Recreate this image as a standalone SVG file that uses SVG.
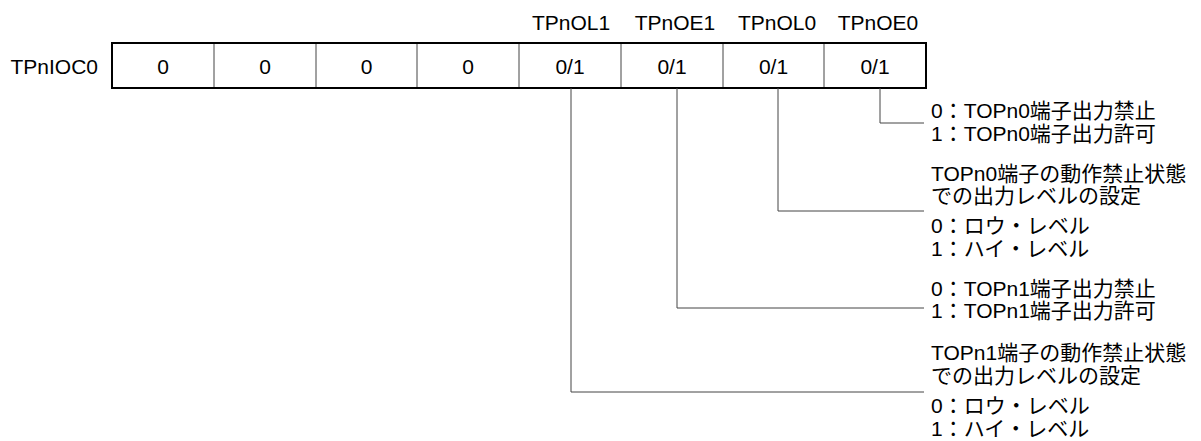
<svg xmlns="http://www.w3.org/2000/svg" width="1201" height="441" viewBox="0 0 1201 441">
<style>
text{font-family:"Liberation Sans","Noto Sans CJK JP",Arial,sans-serif;font-size:21px;fill:#000}
.c{text-anchor:middle}
.cell{fill:#fff;stroke:none}
.div{stroke:#444;stroke-width:1}
.frame{fill:none;stroke:#000;stroke-width:2}
.conn{fill:none;stroke:#444;stroke-width:1}
</style>
<rect width="1201" height="441" fill="#fff"/>
<g id="register">
<text x="98" y="74" text-anchor="end">TPnIOC0</text>
<rect class="cell" x="112" y="43" width="814" height="45"/>
<line class="div" x1="214" y1="43" x2="214" y2="88"/>
<line class="div" x1="316" y1="43" x2="316" y2="88"/>
<line class="div" x1="417" y1="43" x2="417" y2="88"/>
<line class="div" x1="519" y1="43" x2="519" y2="88"/>
<line class="div" x1="621" y1="43" x2="621" y2="88"/>
<line class="div" x1="723" y1="43" x2="723" y2="88"/>
<line class="div" x1="824" y1="43" x2="824" y2="88"/>
<rect class="frame" x="112" y="43" width="814" height="45"/>
<text class="c" x="163" y="74">0</text>
<text class="c" x="265" y="74">0</text>
<text class="c" x="366.5" y="74">0</text>
<text class="c" x="468" y="74">0</text>
<text class="c" x="570" y="74">0/1</text>
<text class="c" x="672" y="74">0/1</text>
<text class="c" x="773.5" y="74">0/1</text>
<text class="c" x="875" y="74">0/1</text>
</g>
<g id="bit-names">
<text class="c" x="571" y="30">TPnOL1</text>
<text class="c" x="675" y="30">TPnOE1</text>
<text class="c" x="777" y="30">TPnOL0</text>
<text class="c" x="878" y="30">TPnOE0</text>
</g>
<g id="connectors">
<polyline class="conn" points="880,88 880,123 924,123"/>
<polyline class="conn" points="778,88 778,211 924,211"/>
<polyline class="conn" points="677,88 677,308 924,308"/>
<polyline class="conn" points="571,88 571,392 924,392"/>
</g>
<g id="desc-tpnoe0">
<text x="931" y="118">0：TOPn0端子出力禁止</text>
<text x="931" y="141">1：TOPn0端子出力許可</text>
</g>
<g id="desc-tpnol0">
<text x="931" y="181">TOPn0端子の動作禁止状態</text>
<text x="931" y="203">での出力レベルの設定</text>
<text x="931" y="233">0：ロウ・レベル</text>
<text x="931" y="256">1：ハイ・レベル</text>
</g>
<g id="desc-tpnoe1">
<text x="931" y="296">0：TOPn1端子出力禁止</text>
<text x="931" y="318">1：TOPn1端子出力許可</text>
</g>
<g id="desc-tpnol1">
<text x="931" y="360">TOPn1端子の動作禁止状態</text>
<text x="931" y="383">での出力レベルの設定</text>
<text x="931" y="413">0：ロウ・レベル</text>
<text x="931" y="436">1：ハイ・レベル</text>
</g>
</svg>
